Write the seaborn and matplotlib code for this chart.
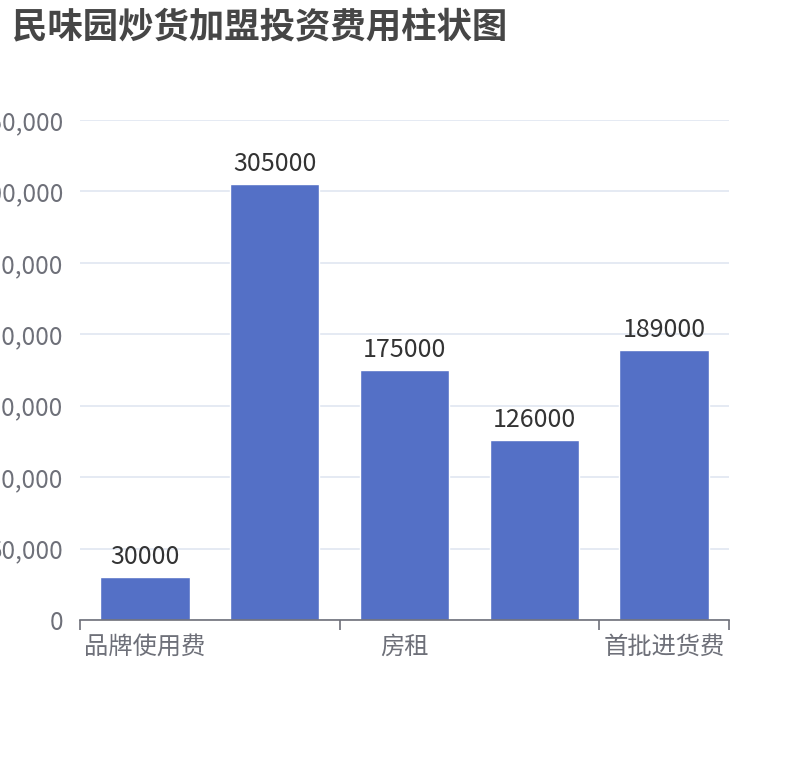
import matplotlib
matplotlib.use("Agg")
import matplotlib.pyplot as plt
import seaborn as sns
import pandas as pd
from matplotlib.ticker import FuncFormatter, FixedLocator

categories = ["品牌使用费", "装修费", "房租", "设备费", "首批进货费"]
values = [30000, 305000, 175000, 126000, 189000]
y_ticks = [0, 50000, 100000, 150000, 200000, 250000, 300000, 350000]

sns.set_style("white")
plt.rcParams['font.family'] = ['Noto Sans CJK SC', 'DejaVu Sans']

df = pd.DataFrame({"category": categories, "value": values})

fig = plt.figure(figsize=(8.1, 7.6), dpi=100)
ax = fig.add_axes([80 / 810, 140 / 760, 649 / 810, 500 / 760])

sns.barplot(data=df, x="category", y="value", color="#5470c6", width=0.69,
            saturation=1, ax=ax)

for i, v in enumerate(values):
    ax.annotate(str(v), (i, v), xytext=(0, 5), textcoords="offset points",
                ha="center", va="bottom", fontsize=18, color="#333333")

ax.set_xlim(-0.5, len(categories) - 0.5)
ax.set_ylim(0, 350000)
ax.set_yticks(y_ticks)
ax.yaxis.set_major_formatter(FuncFormatter(lambda v, p: f"{int(v):,}"))
ax.grid(axis="y", color="#e0e6f1", linewidth=1.2)
ax.set_axisbelow(True)

# show every other category label, ticks on category boundaries
ax.set_xticks([0, 2, 4])
ax.set_xticklabels([categories[0], categories[2], categories[4]])
ax.xaxis.set_minor_locator(FixedLocator([-0.5, 1.5, 3.5, 4.5]))
ax.tick_params(axis="x", which="major", bottom=True, length=0, pad=10,
               labelsize=17.5, labelcolor="#6e7079")
ax.tick_params(axis="x", which="minor", bottom=True, length=7, width=1.2,
               color="#6e7079", direction="out")
ax.tick_params(axis="y", length=0, pad=12, labelsize=17.5, labelcolor="#6e7079")

for s in ["top", "right", "left"]:
    ax.spines[s].set_visible(False)
ax.spines["bottom"].set_color("#6e7079")
ax.spines["bottom"].set_linewidth(1.2)
ax.set_xlabel("")
ax.set_ylabel("")

fig.text(12 / 810, 1 - 27 / 760, "民味园炒货加盟投资费用柱状图", fontsize=25.5,
         fontweight="bold", color="#464646", ha="left", va="center")

fig.savefig("out.png", dpi=100)
